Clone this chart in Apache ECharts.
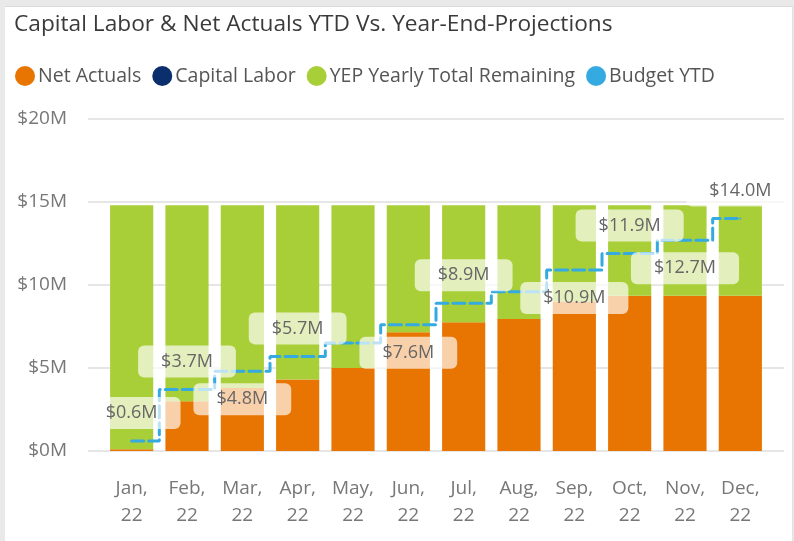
<!DOCTYPE html>
<html>
<head>
<meta charset="utf-8">
<style>
  html, body { margin: 0; padding: 0; background: #e9e9e9; }
  #chart {
    position: absolute;
    left: 5px;
    top: 6px;
    width: 787px;
    height: 534px;
    background: #fff;
    border-top: 1px solid #dadada;
    border-right: 1px solid #e2e2e2;
  }
</style>
<script src="https://cdn.jsdelivr.net/npm/echarts@6/dist/echarts.min.js"></script>
</head>
<body>
<div id="chart"></div>
<script>
// data ($M)
var months = ["Jan,\n22", "Feb,\n22", "Mar,\n22", "Apr,\n22", "May,\n22", "Jun,\n22",
              "Jul,\n22", "Aug,\n22", "Sep,\n22", "Oct,\n22", "Nov,\n22", "Dec,\n22"];
var netActuals = [0.1, 3.0, 3.8, 4.3, 5.0, 7.15, 7.75, 7.95, 9.0, 9.35, 9.35, 9.35];
var capitalLabor = [0, 0, 0, 0, 0, 0, 0, 0, 0, 0, 0, 0];
var yepRemaining = [14.7, 11.8, 11.0, 10.5, 9.8, 7.65, 7.05, 6.85, 5.8, 5.45, 5.45, 5.45];
var budgetYTD = [0.6, 3.7, 4.8, 5.7, 6.5, 7.6, 8.9, 9.6, 10.9, 11.9, 12.7, 14.0];
var yTicks = [0, 5, 10, 15, 20];

// where each budget label sits (null = hidden, like the original)
var labelPlace = ["top", "top", "bottom", "top", null, "bottom", "top", null, "bottom", "top", "bottom", "top"];

var font = "'Segoe UI', 'Open Sans', sans-serif";

var budgetData = budgetYTD.map(function (v, i) {
  var p = labelPlace[i];
  return {
    value: v,
    label: p ? { show: true, position: p } : { show: false }
  };
});

var myChart = echarts.init(document.getElementById("chart"));
var option = {
  animation: false,
  title: {
    text: "Capital Labor & Net Actuals YTD Vs. Year-End-Projections",
    left: 9,
    top: 6,
    padding: 0,
    textStyle: { fontFamily: font, fontSize: 22.7, fontWeight: "normal", color: "#3a3a3a" }
  },
  legend: {
    left: 10,
    top: 59,
    padding: 0,
    icon: "circle",
    itemWidth: 20,
    itemHeight: 20,
    itemGap: 11,
    textStyle: { fontFamily: font, fontSize: 19.5, color: "#555", padding: [0, 0, 0, -2] },
    data: ["Net Actuals", "Capital Labor", "YEP Yearly Total Remaining", "Budget YTD"]
  },
  grid: [
    { left: 99, right: 24, top: 112, bottom: 90 },
    { left: 83, right: 8, top: 112, bottom: 90 }
  ],
  xAxis: [
    {
      type: "category",
      gridIndex: 0,
      data: months,
      axisLine: { show: false },
      axisTick: { show: false },
      axisLabel: {
        margin: 24,
        fontFamily: font,
        fontSize: 19,
        lineHeight: 27,
        color: "#777"
      }
    },
    { type: "category", gridIndex: 1, show: false, data: months }
  ],
  yAxis: [
    { type: "value", gridIndex: 0, min: 0, max: 20, interval: 5, show: false },
    {
      type: "value",
      gridIndex: 1,
      min: yTicks[0],
      max: yTicks[yTicks.length - 1],
      interval: 5,
      axisLine: { show: false },
      axisTick: { show: false },
      splitLine: { lineStyle: { color: "#e6e6e6", width: 2 } },
      axisLabel: {
        margin: 21,
        fontFamily: font,
        fontSize: 19,
        color: "#777",
        formatter: function (v) { return "$" + v + "M"; }
      }
    }
  ],
  series: [
    {
      name: "Net Actuals",
      type: "bar",
      stack: "total",
      barCategoryGap: "22%",
      itemStyle: { color: "#e87402" },
      data: netActuals
    },
    {
      name: "Capital Labor",
      type: "bar",
      stack: "total",
      itemStyle: { color: "#0b2e6d" },
      data: capitalLabor
    },
    {
      name: "YEP Yearly Total Remaining",
      type: "bar",
      stack: "total",
      itemStyle: { color: "#a9cf38" },
      data: yepRemaining
    },
    {
      name: "Budget YTD",
      type: "line",
      step: "middle",
      symbol: "circle",
      symbolSize: 2,
      showSymbol: true,
      itemStyle: { color: "#35aae1" },
      lineStyle: { color: "#35aae1", width: 3, type: [12, 5], cap: "round" },
      z: 5,
      label: {
        show: true,
        distance: 11,
        fontFamily: font,
        fontSize: 18,
        lineHeight: 18,
        color: "#666",
        backgroundColor: "rgba(255,255,255,0.67)",
        borderRadius: 6,
        padding: [7, 23],
        formatter: function (p) { return "$" + p.value.toFixed(1) + "M"; }
      },
      data: budgetData
    }
  ]
};
myChart.setOption(option);
window.addEventListener("resize", function () {
  myChart.resize();
});
</script>
</body>
</html>
